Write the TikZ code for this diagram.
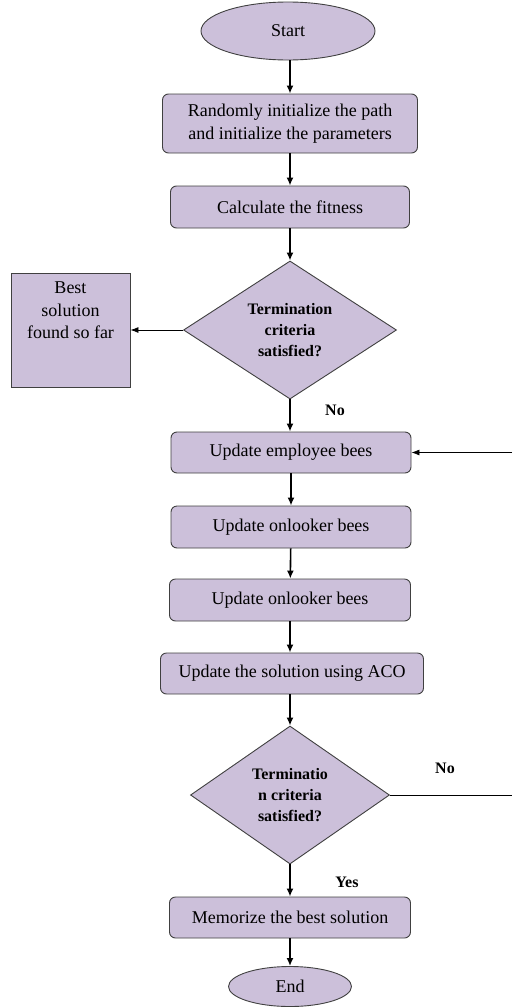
\documentclass[tikz,border=0pt]{standalone}
\usepackage{fontspec}
\setmainfont{Liberation Serif}
\usetikzlibrary{shapes.geometric,arrows.meta}
\definecolor{fillc}{RGB}{204,192,218}
\definecolor{edgec}{RGB}{64,64,64}
\begin{document}
\begin{tikzpicture}[x=1pt,y=-1pt,
  proc/.style={draw=edgec, fill=fillc, rounded corners=6pt, line width=0.9pt, inner sep=0pt,
    font=\fontsize{18}{23}\selectfont, align=center},
  term/.style={ellipse, draw=edgec, fill=fillc, line width=0.9pt, inner sep=0pt,
    font=\fontsize{18}{23}\selectfont},
  dec/.style={diamond, draw=edgec, fill=fillc, line width=0.9pt, inner sep=0pt,
    font=\bfseries\fontsize{16}{21}\selectfont, align=center},
  sq/.style={draw=edgec, fill=fillc, line width=0.9pt, inner sep=0pt},
  arr/.style={-{Latex[length=8pt,width=7pt]}, line width=1.6pt},
  harr/.style={-{Latex[length=8pt,width=6pt]}, line width=0.8pt},
  lbl/.style={font=\bfseries\fontsize{16}{20}\selectfont}]
\useasboundingbox (0,0) rectangle (512,1007);

\node[term, minimum width=174pt, minimum height=58pt] (start) at (288,31) {Start};
\node[proc, minimum width=255pt, minimum height=59pt] (init) at (290,123.5)
  {Randomly initialize the path\\and initialize the parameters};
\node[proc, minimum width=239pt, minimum height=42pt] (fit) at (290,207) {Calculate the fitness};
\node[dec, minimum width=213pt, minimum height=138pt] (d1) at (290,330)
  {Termination\\criteria\\satisfied?};
\node[sq, minimum width=119pt, minimum height=114pt,
  label={[anchor=north, align=center, yshift=-6pt, font=\fontsize{18}{22.5}\selectfont]north:Best\\solution\\found so far}]
  (best) at (70.5,330) {};
\node[proc, minimum width=240pt, minimum height=41pt] (emp) at (291,452.5) {Update employee bees};
\node[proc, minimum width=240pt, minimum height=42pt] (onl1) at (291,527) {Update onlooker bees};
\node[proc, minimum width=241pt, minimum height=42pt] (onl2) at (290,600) {Update onlooker bees};
\node[proc, minimum width=263pt, minimum height=41pt] (aco) at (292,673.5) {Update the solution using ACO};
\node[dec, minimum width=199pt, minimum height=138pt] (d2) at (290,795)
  {Terminatio\\n criteria\\satisfied?};
\node[proc, minimum width=241pt, minimum height=41pt] (mem) at (290,917.5) {Memorize the best solution};
\node[term, minimum width=123pt, minimum height=40pt] (end) at (290,986.5) {End};

\node[lbl] (no1) at (335,410) {No};
\node[lbl] (no2) at (445,768) {No};
\node[lbl] (yes) at (347,882) {Yes};

\coordinate (edge) at (512,0);

\draw[arr] (start.south -| init.north) -- (init.north);
\draw[arr] (init) -- (fit);
\draw[arr] (fit) -- (d1);
\draw[harr] (d1.west) -- (best.east);
\draw[arr] (d1.south) -- (d1.south |- emp.north);
\draw[arr] (emp) -- (onl1);
\draw[arr] (onl1) -- (onl2);
\draw[arr] (onl2) -- (onl2.south |- aco.north);
\draw[arr] (aco.south -| d2.north) -- (d2.north);
\draw[arr] (d2) -- (mem);
\draw[arr] (mem) -- (end);
\draw[line width=0.8pt] (d2.east) -- (edge |- d2.east);
\draw[harr] (edge |- emp.east) -- (emp.east);
\end{tikzpicture}
\end{document}
